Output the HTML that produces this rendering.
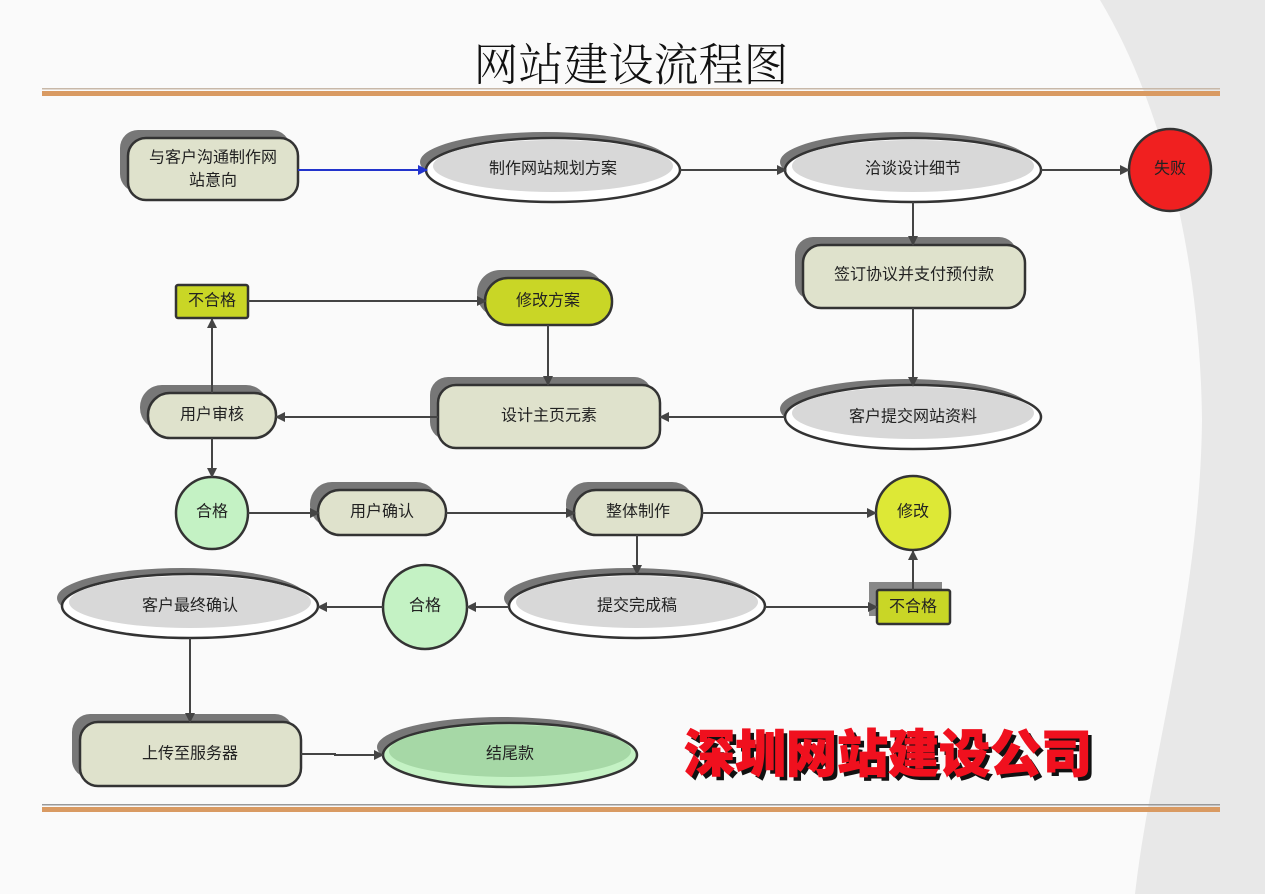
<!DOCTYPE html>
<html><head><meta charset="utf-8"><style>
html,body{margin:0;padding:0;background:#fafafa;}
svg{display:block;}
text{font-family:"Liberation Sans","Noto Sans CJK SC",sans-serif;font-size:16px;fill:#222;text-anchor:middle;dominant-baseline:central;}
</style></head><body>
<svg width="1265" height="894" viewBox="0 0 1265 894" xmlns="http://www.w3.org/2000/svg">
<defs>
<marker id="a" markerWidth="10" markerHeight="10" refX="9" refY="5" orient="auto" markerUnits="userSpaceOnUse"><path d="M0,0 L10,5 L0,10 z" fill="#444"/></marker>
<marker id="b" markerWidth="10" markerHeight="10" refX="9" refY="5" orient="auto" markerUnits="userSpaceOnUse"><path d="M0,0 L10,5 L0,10 z" fill="#2233cc"/></marker>
</defs>
<rect width="1265" height="894" fill="#fafafa"/>
<path d="M1100,0 C1160,100 1200,250 1202,420 C1200,600 1150,760 1135,894 L1265,894 L1265,0 Z" fill="#e8e8e8"/>
<text x="631" y="61" style="font-family:'Noto Serif CJK SC',serif;font-size:45px;font-weight:300;fill:#111">网站建设流程图</text>
<rect x="42" y="88" width="1178" height="1.5" fill="#c8b8a8"/>
<rect x="42" y="91" width="1178" height="5" fill="#d99a62"/>
<rect x="42" y="804" width="1178" height="1.5" fill="#999"/>
<rect x="42" y="807" width="1178" height="5" fill="#d99a62"/>

<g stroke="#333" stroke-width="2.5">
<rect x="120" y="130" width="170" height="62" rx="18" fill="#777" stroke="none"/>
<rect x="128" y="138" width="170" height="62" rx="18" fill="#dfe2cc"/>
<ellipse cx="545" cy="162" rx="125" ry="30" fill="#777" stroke="none"/>
<ellipse cx="553" cy="170" rx="127" ry="32" fill="#fff"/>
<ellipse cx="553" cy="166" rx="120" ry="26" fill="#d8d8d8" stroke="none"/>
<ellipse cx="905" cy="162" rx="125" ry="30" fill="#777" stroke="none"/>
<ellipse cx="913" cy="170" rx="128" ry="32" fill="#fff"/>
<ellipse cx="913" cy="166" rx="121" ry="26" fill="#d8d8d8" stroke="none"/>
<circle cx="1170" cy="170" r="41" fill="#f02020"/>
<rect x="795" y="237" width="222" height="63" rx="18" fill="#777" stroke="none"/>
<rect x="803" y="245" width="222" height="63" rx="18" fill="#dfe2cc"/>
<ellipse cx="905" cy="409" rx="125" ry="30" fill="#777" stroke="none"/>
<ellipse cx="913" cy="417" rx="128" ry="32" fill="#fff"/>
<ellipse cx="913" cy="413" rx="121" ry="26" fill="#d8d8d8" stroke="none"/>
<rect x="430" y="377" width="222" height="63" rx="18" fill="#777" stroke="none"/>
<rect x="438" y="385" width="222" height="63" rx="18" fill="#dfe2cc"/>
<rect x="477" y="270" width="127" height="47" rx="23" fill="#777" stroke="none"/>
<rect x="485" y="278" width="127" height="47" rx="23" fill="#c9d626"/>
<rect x="176" y="285" width="72" height="33" rx="2" fill="#c9d626"/>
<rect x="140" y="385" width="128" height="45" rx="22" fill="#777" stroke="none"/>
<rect x="148" y="393" width="128" height="45" rx="22" fill="#dfe2cc"/>
<circle cx="212" cy="513" r="36" fill="#c4f2c4"/>
<rect x="310" y="482" width="128" height="45" rx="22" fill="#777" stroke="none"/>
<rect x="318" y="490" width="128" height="45" rx="22" fill="#dfe2cc"/>
<rect x="566" y="482" width="128" height="45" rx="22" fill="#777" stroke="none"/>
<rect x="574" y="490" width="128" height="45" rx="22" fill="#dfe2cc"/>
<circle cx="913" cy="513" r="37" fill="#dde836"/>
<rect x="869" y="582" width="73" height="34" fill="#888" stroke="none"/>
<rect x="877" y="590" width="73" height="34" rx="2" fill="#c9d626"/>
<ellipse cx="629" cy="598" rx="125" ry="30" fill="#777" stroke="none"/>
<ellipse cx="637" cy="606" rx="128" ry="32" fill="#fff"/>
<ellipse cx="637" cy="602" rx="121" ry="26" fill="#d8d8d8" stroke="none"/>
<ellipse cx="425" cy="607" rx="42" ry="42" fill="#c4f2c4"/>
<ellipse cx="182" cy="598" rx="125" ry="30" fill="#777" stroke="none"/>
<ellipse cx="190" cy="606" rx="128" ry="32" fill="#fff"/>
<ellipse cx="190" cy="602" rx="121" ry="26" fill="#d8d8d8" stroke="none"/>
<rect x="72" y="714" width="221" height="64" rx="18" fill="#777" stroke="none"/>
<rect x="80" y="722" width="221" height="64" rx="18" fill="#dfe2cc"/>
<ellipse cx="502" cy="747" rx="125" ry="30" fill="#777" stroke="none"/>
<ellipse cx="510" cy="755" rx="127" ry="32" fill="#c4f2c4"/>
<ellipse cx="510" cy="751" rx="121" ry="26" fill="#a6d8a6" stroke="none"/>
</g>

<g stroke="#444" stroke-width="2" fill="none">
<line x1="298" y1="170" x2="427" y2="170" stroke="#2233cc" marker-end="url(#b)"/>
<line x1="680" y1="170" x2="786" y2="170" marker-end="url(#a)"/>
<line x1="1041" y1="170" x2="1129" y2="170" marker-end="url(#a)"/>
<line x1="913" y1="202" x2="913" y2="245" marker-end="url(#a)"/>
<line x1="913" y1="308" x2="913" y2="386" marker-end="url(#a)"/>
<line x1="785" y1="417" x2="660" y2="417" marker-end="url(#a)"/>
<line x1="438" y1="417" x2="276" y2="417" marker-end="url(#a)"/>
<line x1="212" y1="393" x2="212" y2="319" marker-end="url(#a)"/>
<line x1="248" y1="301" x2="486" y2="301" marker-end="url(#a)"/>
<line x1="548" y1="325" x2="548" y2="385" marker-end="url(#a)"/>
<line x1="212" y1="438" x2="212" y2="477" marker-end="url(#a)"/>
<line x1="248" y1="513" x2="319" y2="513" marker-end="url(#a)"/>
<line x1="446" y1="513" x2="575" y2="513" marker-end="url(#a)"/>
<line x1="702" y1="513" x2="876" y2="513" marker-end="url(#a)"/>
<line x1="637" y1="535" x2="637" y2="574" marker-end="url(#a)"/>
<line x1="765" y1="607" x2="877" y2="607" marker-end="url(#a)"/>
<line x1="913" y1="590" x2="913" y2="551" marker-end="url(#a)"/>
<line x1="509" y1="607" x2="467" y2="607" marker-end="url(#a)"/>
<line x1="383" y1="607" x2="318" y2="607" marker-end="url(#a)"/>
<line x1="190" y1="638" x2="190" y2="722" marker-end="url(#a)"/>
<polyline points="301,754 335,754 335,755 383,755" marker-end="url(#a)"/>
</g>

<text x="213" y="158">与客户沟通制作网</text>
<text x="213" y="181">站意向</text>
<text x="553" y="169">制作网站规划方案</text>
<text x="913" y="169">洽谈设计细节</text>
<text x="1170" y="169">失败</text>
<text x="914" y="275">签订协议并支付预付款</text>
<text x="913" y="417">客户提交网站资料</text>
<text x="549" y="416">设计主页元素</text>
<text x="548" y="301">修改方案</text>
<text x="212" y="301">不合格</text>
<text x="212" y="415">用户审核</text>
<text x="212" y="512">合格</text>
<text x="382" y="512">用户确认</text>
<text x="638" y="512">整体制作</text>
<text x="913" y="512">修改</text>
<text x="913" y="607">不合格</text>
<text x="637" y="606">提交完成稿</text>
<text x="425" y="606">合格</text>
<text x="190" y="606">客户最终确认</text>
<text x="190" y="754">上传至服务器</text>
<text x="510" y="754">结尾款</text>

<text x="892" y="754" style="font-size:51px;font-weight:900;fill:#111;font-family:'Noto Sans CJK SC',sans-serif">深圳网站建设公司</text>
<text x="888" y="750" style="font-size:51px;font-weight:900;fill:#f0101e;font-family:'Noto Sans CJK SC',sans-serif;stroke:#f0101e;stroke-width:1">深圳网站建设公司</text>
</svg>
</body></html>
